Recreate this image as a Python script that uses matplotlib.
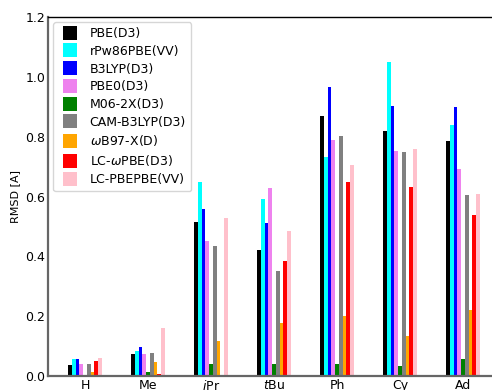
import matplotlib
matplotlib.use("Agg")
import matplotlib.pyplot as plt
from matplotlib.lines import Line2D
import numpy as np

categories = ["H", "Me", "$i$Pr", "$t$Bu", "Ph", "Cy", "Ad"]
methods = ["PBE(D3)", "rPw86PBE(VV)", "B3LYP(D3)", "PBE0(D3)", "M06-2X(D3)",
           "CAM-B3LYP(D3)", r"$\omega$B97-X(D)", r"LC-$\omega$PBE(D3)", "LC-PBEPBE(VV)"]
colors = ["black", "cyan", "blue", "violet", "green", "gray", "orange", "red", "pink"]

pbe_d3      = [0.037, 0.073, 0.516, 0.421, 0.869, 0.819, 0.786]
rpw86pbe_vv = [0.057, 0.083, 0.648, 0.592, 0.732, 1.049, 0.839]
b3lyp_d3    = [0.057, 0.097, 0.558, 0.512, 0.967, 0.902, 0.899]
pbe0_d3     = [0.040, 0.073, 0.451, 0.628, 0.789, 0.752, 0.692]
m062x_d3    = [0.003, 0.013, 0.040, 0.040, 0.040, 0.033, 0.057]
camb3lyp_d3 = [0.040, 0.077, 0.434, 0.351, 0.802, 0.749, 0.605]
wb97xd      = [0.014, 0.047, 0.117, 0.177, 0.200, 0.134, 0.221]
lcwpbe_d3   = [0.050, 0.007, 0.005, 0.384, 0.648, 0.632, 0.538]
lcpbepbe_vv = [0.060, 0.160, 0.528, 0.485, 0.705, 0.759, 0.608]

series = [pbe_d3, rpw86pbe_vv, b3lyp_d3, pbe0_d3, m062x_d3,
          camb3lyp_d3, wb97xd, lcwpbe_d3, lcpbepbe_vv]

W, H = 492, 390
fig = plt.figure(figsize=(W / 100, H / 100), dpi=100)
ax = fig.add_axes([48 / W, 14 / H, 454 / W, 359 / H])

x = np.arange(len(categories))
bw = 0.06
for i, (vals, lab, col) in enumerate(zip(series, methods, colors)):
    ax.bar(x + (i - 4) * bw, vals, width=bw, color=col, label=lab, linewidth=0)

ax.set_xlim(-0.587, 6.619)
ax.set_ylim(0, 1.2)
ax.set_xticks(x)
ax.set_xticklabels(categories, fontsize=9)
ax.set_yticks([0.0, 0.2, 0.4, 0.6, 0.8, 1.0, 1.2])
ax.set_yticklabels(["0.0", "0.2", "0.4", "0.6", "0.8", "1.0", "1.2"], fontsize=9)
ax.tick_params(axis="both", length=0, pad=2)
ax.set_ylabel("RMSD [A]", fontsize=8, labelpad=4)

for s in ["left", "bottom"]:
    ax.spines[s].set_color("#666666")
    ax.spines[s].set_linewidth(1.6)
ax.spines["top"].set_color("black")
ax.spines["top"].set_linewidth(1.0)
ax.spines["right"].set_visible(False)

handles = [Line2D([], [], marker="s", linestyle="none", markersize=10.4,
                  markerfacecolor=c, markeredgewidth=0) for c in colors]
leg = ax.legend(handles, methods, loc="upper left", fontsize=9,
                handlelength=1.84, borderaxespad=0.4, borderpad=0.4,
                labelspacing=0.38, handletextpad=0.7,
                bbox_to_anchor=(0.0, 1.0), frameon=True, fancybox=True)
leg.get_frame().set_edgecolor("#cccccc")

fig.savefig("out.png", dpi=100)
